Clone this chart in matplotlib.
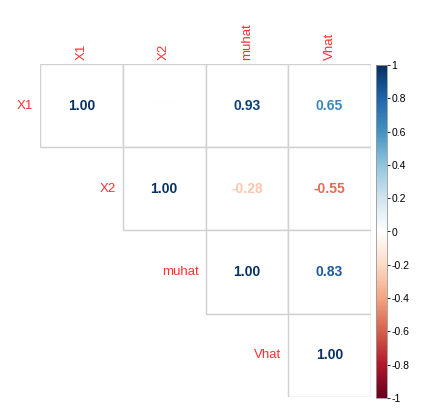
import numpy as np
import matplotlib.pyplot as plt
from matplotlib.patches import Rectangle
from matplotlib.colors import Normalize, LinearSegmentedColormap
from matplotlib.cm import ScalarMappable

plt.rcParams['font.family'] = ['Liberation Sans', 'DejaVu Sans']

names = ['X1', 'X2', 'muhat', 'Vhat']
# upper triangle of the correlation matrix, row by row
corr = np.array([
    [1.00, 0.00, 0.93, 0.65],
    [np.nan, 1.00, -0.28, -0.55],
    [np.nan, np.nan, 1.00, 0.83],
    [np.nan, np.nan, np.nan, 1.00],
])
cbar_ticks = [1, 0.8, 0.6, 0.4, 0.2, 0, -0.2, -0.4, -0.6, -0.8, -1]

# RdBu with a pure white centre, like corrplot's palette
rdbu = ['#67001F', '#B2182B', '#D6604D', '#F4A582', '#FDDBC7', '#FFFFFF',
        '#D1E5F0', '#92C5DE', '#4393C3', '#2166AC', '#053061']
cmap = LinearSegmentedColormap.from_list('rdbu_w', rdbu, N=200)
norm = Normalize(-1, 1)
lab_col = '#FF3030'
n = len(names)

W, H = 445, 415
fig = plt.figure(figsize=(W / 100, H / 100), dpi=100)
ax = fig.add_axes([40 / W, 18 / H, 331 / W, 333 / H])
ax.set_xlim(0, n)
ax.set_ylim(n, 0)
ax.axis('off')

for i in range(n):
    for j in range(i, n):
        v = corr[i, j]
        ax.add_patch(Rectangle((j, i), 1, 1, facecolor='white',
                               edgecolor='#D0D0D0', lw=1))
        ax.text(j + 0.5, i + 0.5, f'{v:.2f}', ha='center', va='center',
                fontsize=10, fontweight='bold', color=cmap(norm(v)))
    # row label to the left of the diagonal cell
    ax.text(i - 0.08, i + 0.5, names[i], ha='right', va='center',
            fontsize=9.5, color=lab_col)
    # column label on top
    ax.text(i + 0.5, -0.05, names[i], ha='center', va='bottom',
            rotation=90, fontsize=9.5, color=lab_col)

cax = fig.add_axes([376 / W, 17 / H, 11 / W, 333 / H])
cb = fig.colorbar(ScalarMappable(norm=norm, cmap=cmap), cax=cax)
cb.set_ticks(cbar_ticks)
cb.set_ticklabels([f'{t:g}' for t in cbar_ticks])
cb.outline.set_edgecolor('#999999')
cb.outline.set_linewidth(0.6)
cax.tick_params(labelsize=7.5, length=2, width=0.6, pad=1)

fig.savefig('out.png', dpi=100)
